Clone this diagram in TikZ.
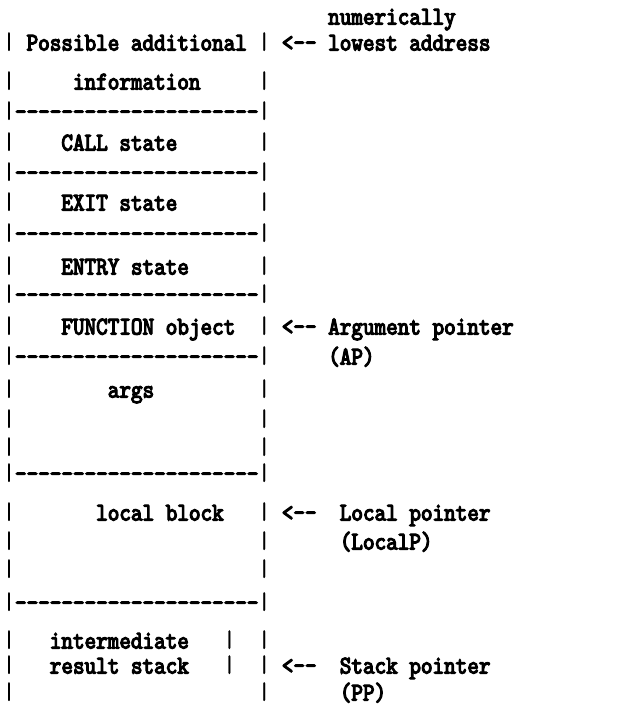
\documentclass[tikz,border=0pt]{standalone}
\usepackage{fontspec}
\setmonofont{lmmono10-regular.otf}[FakeBold=4.5, FakeStretch=0.866]
\newfontfamily\barfont{lmmono10-regular.otf}[FakeBold=1]
\newcommand\hy{-{}}
\newcommand\dashline{\hy\hy\hy\hy\hy\hy\hy\hy\hy\hy\hy\hy\hy\hy\hy\hy\hy\hy\hy\hy-}
\newcommand\larrow{<\hy-}
\begin{document}
\begin{tikzpicture}[x=1pt,y=-1pt,
  txt/.style={anchor=base west, inner sep=0pt, font=\ttfamily\fontsize{25.5}{28}\selectfont},
  bar/.style={anchor=base, inner sep=0pt, font=\barfont\fontsize{24}{26}\selectfont}]
\useasboundingbox (0,0) rectangle (631,706);
\def\cw{11.6}
\def\xo{3.2}
% vertical bars of the frame
\foreach \y [count=\i] in {43,82,112,143,173,203,234,267,295,327,357,390,420,448,474,513,542,570,603,641,666,693} {
  \node[bar] (bl\i) at ({\xo+0.5*\cw},{\y+6}) {|};
  \node[bar] (br\i) at ({\xo+22.5*\cw},{\y+6}) {|};
}
\node[bar] (bi1) at ({\xo+19.5*\cw},{641+6}) {|};
\node[bar] (bi2) at ({\xo+19.5*\cw},{666+6}) {|};
% dashed separators
\foreach \y [count=\i] in {112,173,234,295,357,474,603} {
  \node[txt] (d\i) at ({\xo+1*\cw},{\y+7.5}) {\dashline};
}
% box contents
\node[txt] (t1) at ({\xo+2*\cw},{43+7.5}) {Possible additional};
\node[txt] (t2) at ({\xo+6*\cw},{82+7.5}) {information};
\node[txt] (t3) at ({\xo+5*\cw},{143+7.5}) {CALL state};
\node[txt] (t4) at ({\xo+5*\cw},{203+7.5}) {EXIT state};
\node[txt] (t5) at ({\xo+5*\cw},{267+7.5}) {ENTRY state};
\node[txt] (t6) at ({\xo+5*\cw},{327+7.5}) {FUNCTION object};
\node[txt] (t7) at ({\xo+9*\cw},{390+7.5}) {args};
\node[txt] (t8) at ({\xo+8*\cw},{513+7.5}) {local block};
\node[txt] (t9) at ({\xo+4*\cw},{641+7.5}) {intermediate};
\node[txt] (t10) at ({\xo+4*\cw},{666+7.5}) {result stack};
% pointers
\node[txt] (n0) at ({\xo+28*\cw},{17+7.5}) {numerically};
\node[txt] (a1) at ({\xo+24*\cw},{43+7.5}) {\larrow};
\node[txt] (p1) at ({\xo+28*\cw},{43+7.5}) {lowest address};
\node[txt] (a2) at ({\xo+24*\cw},{327+7.5}) {\larrow};
\node[txt] (p2) at ({\xo+28*\cw},{327+7.5}) {Argument pointer};
\node[txt] (p2b) at ({\xo+28*\cw},{357+7.5}) {(AP)};
\node[txt] (a3) at ({\xo+24*\cw},{513+7.5}) {\larrow};
\node[txt] (p3) at ({\xo+29*\cw},{513+7.5}) {Local pointer};
\node[txt] (p3b) at ({\xo+29*\cw},{542+7.5}) {(LocalP)};
\node[txt] (a4) at ({\xo+24*\cw},{666+7.5}) {\larrow};
\node[txt] (p4) at ({\xo+29*\cw},{666+7.5}) {Stack pointer};
\node[txt] (p4b) at ({\xo+29*\cw},{693+7.5}) {(PP)};
\end{tikzpicture}
\end{document}
